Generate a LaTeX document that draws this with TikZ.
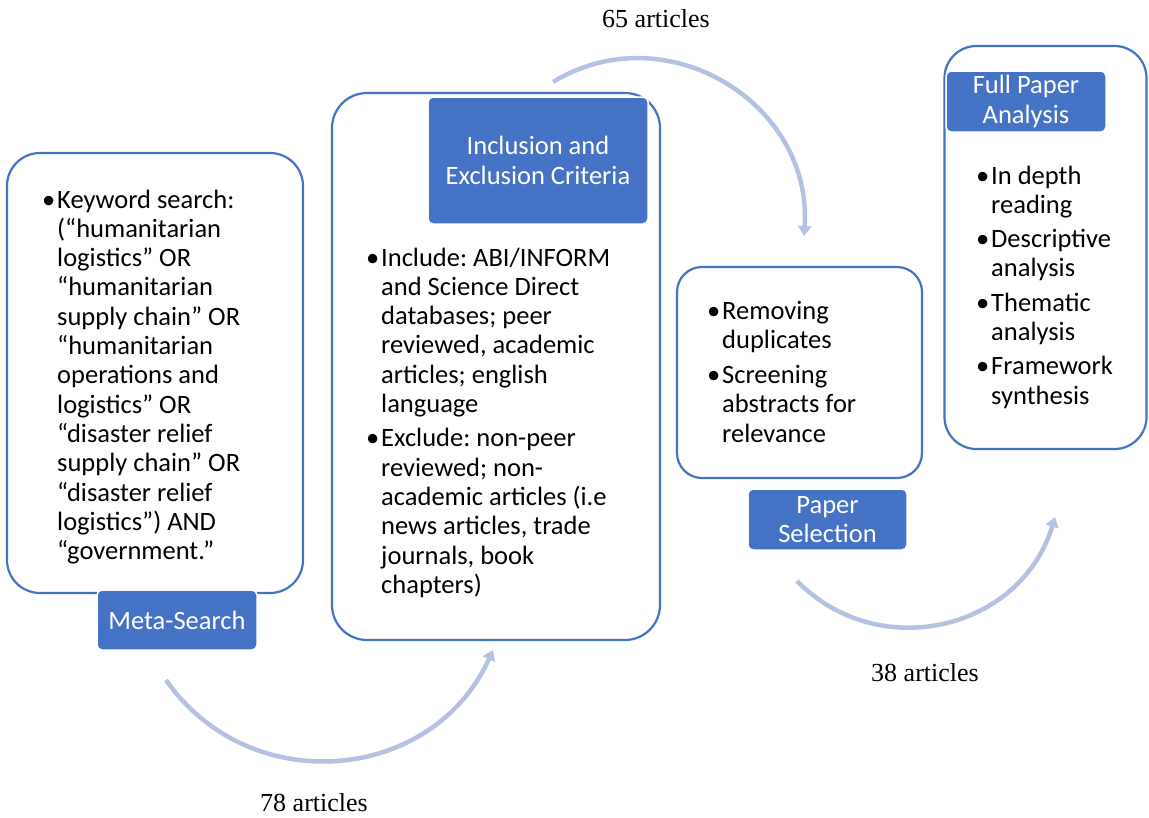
\documentclass[tikz,border=0pt]{standalone}
\usepackage{fontspec}
\setmainfont{Carlito}
\newfontfamily\tnr{Liberation Serif}
\usetikzlibrary{arrows.meta}
\definecolor{accblue}{HTML}{4472C4}
\definecolor{flowblue}{HTML}{B4C1E2}
\newcommand{\itm}{\llap{•\hspace{2pt}}}
\frenchspacing
\begin{document}
\begin{tikzpicture}[x=1pt,y=-1pt,font=\fontsize{26.5}{29.3}\selectfont,
 frame/.style={draw=accblue,line width=2.2pt,fill=white},
 tag/.style={fill=accblue,draw=white,line width=1.5pt,rounded corners=5pt,text=white,align=center,inner sep=0pt},
 list/.style={anchor=base west,inner sep=0pt},
 flow/.style={draw=flowblue,line width=4.5pt,-{Triangle[width=13pt,length=10pt]}},
 count/.style={font=\tnr\fontsize{26}{30}\selectfont}]
 \useasboundingbox (0,0) rectangle (1149,817);
 % frames
 \node[frame,rounded corners=33pt,minimum width=296pt,minimum height=440pt] (search) at (155,373) {};
 \node[frame,rounded corners=35pt,minimum width=328pt,minimum height=547pt] (criteria) at (496,366.5) {};
 \node[frame,rounded corners=25pt,minimum width=245pt,minimum height=211pt] (select) at (799.5,372.5) {};
 \node[frame,rounded corners=32pt,minimum width=202pt,minimum height=403pt] (analysis) at (1045.5,247.5) {};
 % tags
 \node[tag,minimum width=160pt,minimum height=60pt] (searchtag) at (177,620) {Meta-Search};
 \node[tag,minimum width=220pt,minimum height=127pt] (criteriatag) at (538,160.5) {Inclusion and\\Exclusion Criteria};
 \node[tag,minimum width=159pt,minimum height=61pt] (selecttag) at (827.5,519.5) {Paper\\Selection};
 \node[tag,minimum width=160pt,minimum height=61pt] (analysistag) at (1026,101.5) {Full Paper\\Analysis};
 % lists
 \node[list] (searchlist) at (57,208) {\begin{tabular}[t]{@{}l@{}}
  \itm Keyword search:\\ (“humanitarian\\ logistics” OR\\ “humanitarian\\ supply chain” OR\\
  “humanitarian\\ operations and\\ logistics” OR\\ “disaster relief\\ supply chain” OR\\
  “disaster relief\\ logistics”) AND\\ “government.”\end{tabular}};
 \node[list] (criterialist) at (381,266) {\begin{tabular}[t]{@{}l@{}}
  \itm Include: ABI/INFORM\\ and Science Direct\\ databases; peer\\ reviewed, academic\\ articles; english\\ language\\[5pt]
  \itm Exclude: non-peer\\ reviewed; non-\\ academic articles (i.e\\ news articles, trade\\ journals, book\\ chapters)\end{tabular}};
 \node[list] (selectlist) at (722,319) {\begin{tabular}[t]{@{}l@{}}
  \itm Removing\\ duplicates\\[6pt] \itm Screening\\ abstracts for\\ relevance\end{tabular}};
 \node[list] (analysislist) at (991,184) {\begin{tabular}[t]{@{}l@{}}
  \itm In depth\\ reading\\[5pt] \itm Descriptive\\ analysis\\[5pt] \itm Thematic\\ analysis\\[5pt]
  \itm Framework\\ synthesis\end{tabular}};
 % flows
 \coordinate (f1a) at (166,680); \coordinate (f1b) at (493,650);
 \coordinate (f2a) at (553,82);  \coordinate (f2b) at (804,236);
 \coordinate (f3a) at (797,581); \coordinate (f3b) at (1055,517);
 \draw[flow] (f1a) .. controls (250,800) and (433,783) .. (f1b);
 \draw[flow] (f2a) .. controls (666,13) and (813,103) .. (f2b);
 \draw[flow] (f3a) .. controls (879.5,664.7) and (1021,629.6) .. (f3b);
 \node[count] (n78) at (314,803) {78 articles};
 \node[count] (n65) at (656,19) {65 articles};
 \node[count] (n38) at (925,673) {38 articles};
\end{tikzpicture}
\end{document}
